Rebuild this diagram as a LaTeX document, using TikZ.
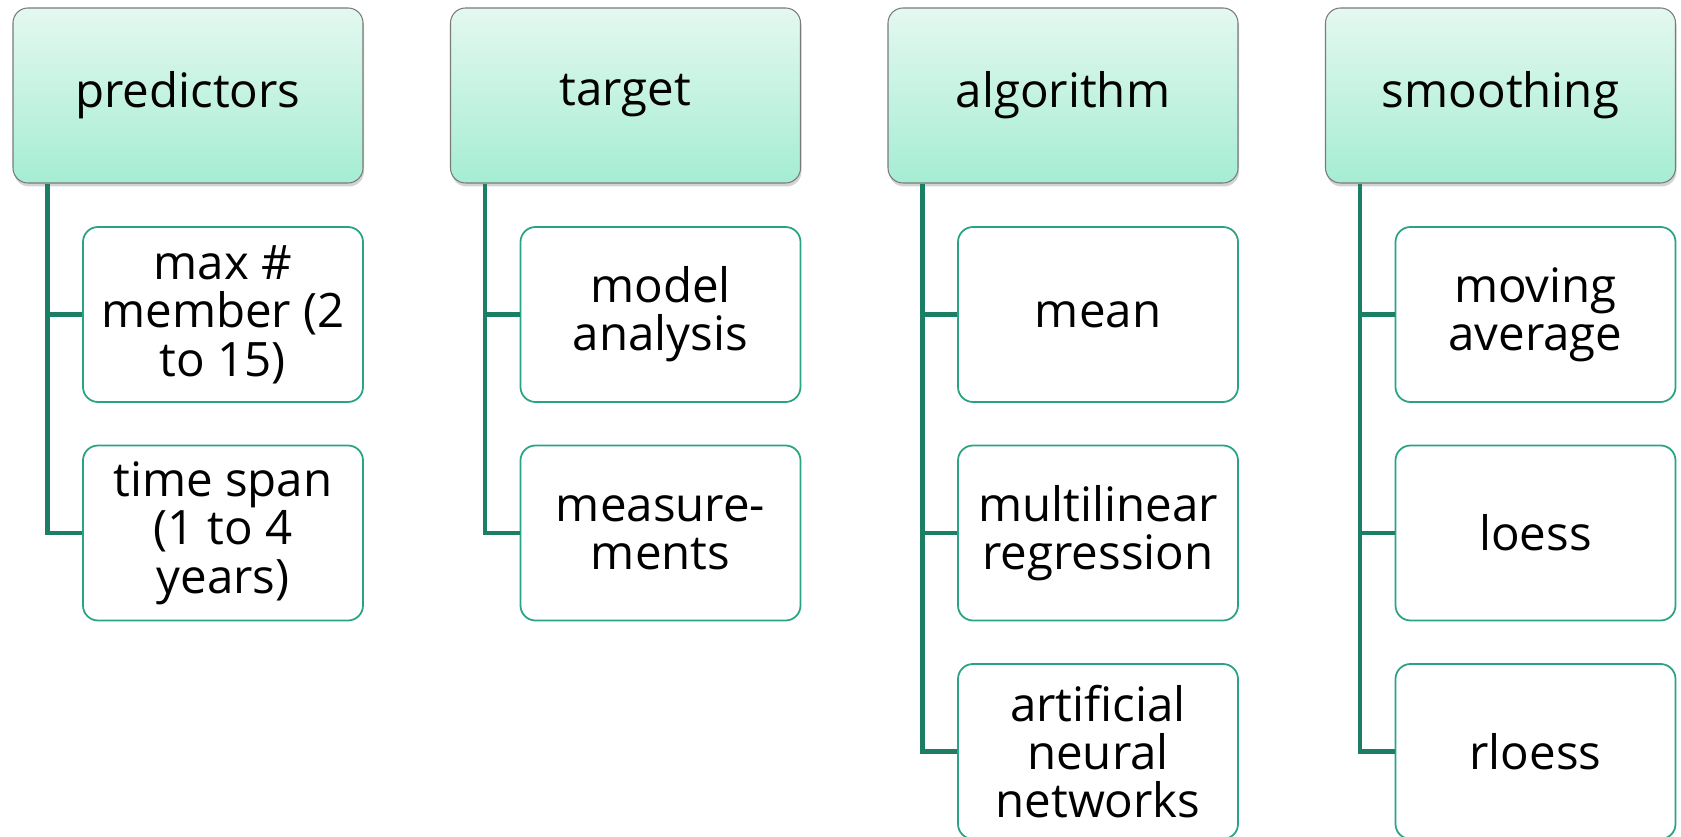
\documentclass[tikz,border=0pt]{standalone}
\usepackage{fontspec}
\setmainfont{Open Sans}
\usetikzlibrary{shadows}

\definecolor{headtop}{HTML}{E4F8F0}
\definecolor{headbot}{HTML}{A5EDD3}
\definecolor{headedge}{HTML}{7A7A7A}
\definecolor{childedge}{HTML}{2AA385}
\definecolor{linkcol}{HTML}{1B7F66}

\tikzset{
  head/.style={rounded corners=0.3cm, draw=headedge, line width=0.6pt,
    top color=headtop, bottom color=headbot,
    drop shadow={shadow xshift=0.02cm, shadow yshift=-0.07cm, opacity=0.35},
    minimum width=7cm, minimum height=3.5cm, font=\fontsize{27}{30}\selectfont},
  child/.style={rounded corners=0.3cm, draw=childedge, line width=1pt, fill=white,
    minimum width=5.6cm, minimum height=3.5cm, align=center, inner sep=0pt,
    font=\fontsize{27}{27.5}\selectfont},
  link/.style={draw=linkcol, line width=2.6pt}
}

\begin{document}
\begin{tikzpicture}

\useasboundingbox (0,0) rectangle (33.62,16.74);

% Headers
\node[head] (pred) at (3.76,14.83) {predictors};
\node[head] (targ) at (12.51,14.83) {target};
\node[head] (algo) at (21.26,14.83) {algorithm};
\node[head] (smoo) at (30.01,14.83) {smoothing};

% predictors column
\node[child] (pred1) at (4.46,10.45) {max \#\\member (2\\to 15)};
\node[child] (pred2) at (4.46,6.08) {time span\\(1 to 4\\years)};

% target column
\node[child] (targ1) at (13.21,10.45) {model\\analysis};
\node[child] (targ2) at (13.21,6.08) {measure-\\ments};

% algorithm column
\node[child] (algo1) at (21.96,10.45) {mean};
\node[child] (algo2) at (21.96,6.08) {multilinear\\regression};
\node[child] (algo3) at (21.96,1.71) {artificial\\neural\\networks};

% smoothing column
\node[child] (smoo1) at (30.71,10.45) {moving\\average};
\node[child] (smoo2) at (30.71,6.08) {loess};
\node[child] (smoo3) at (30.71,1.71) {rloess};

% Connectors
\draw[link] ([xshift=0.7cm]pred.south west) |- (pred1.west);
\draw[link] ([xshift=0.7cm]pred.south west) |- (pred2.west);

\draw[link] ([xshift=0.7cm]targ.south west) |- (targ1.west);
\draw[link] ([xshift=0.7cm]targ.south west) |- (targ2.west);

\draw[link] ([xshift=0.7cm]algo.south west) |- (algo1.west);
\draw[link] ([xshift=0.7cm]algo.south west) |- (algo2.west);
\draw[link] ([xshift=0.7cm]algo.south west) |- (algo3.west);

\draw[link] ([xshift=0.7cm]smoo.south west) |- (smoo1.west);
\draw[link] ([xshift=0.7cm]smoo.south west) |- (smoo2.west);
\draw[link] ([xshift=0.7cm]smoo.south west) |- (smoo3.west);

\end{tikzpicture}
\end{document}
